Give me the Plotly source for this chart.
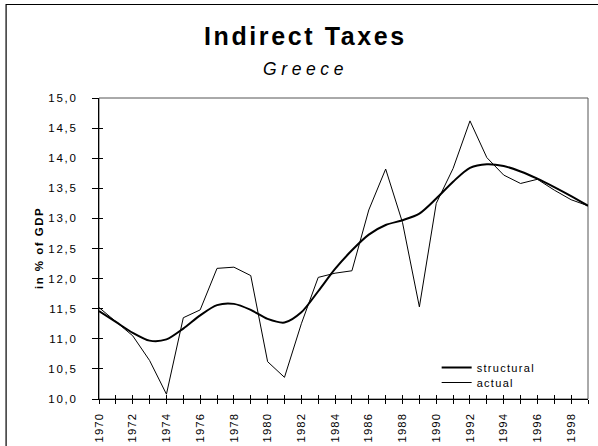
import plotly.graph_objects as go

years = list(range(1970, 2000))
actual = [11.52, 11.28, 11.05, 10.64, 10.08, 11.35, 11.48, 12.17, 12.19, 12.05,
          10.62, 10.36, 11.25, 12.02, 12.09, 12.13, 13.14, 13.82, 12.93, 11.53,
          13.25, 13.83, 14.62, 14.01, 13.72, 13.58, 13.65, 13.47, 13.31, 13.21]
structural = [11.46, 11.28, 11.10, 10.97, 10.99, 11.17, 11.39, 11.56, 11.58, 11.48,
              11.33, 11.27, 11.44, 11.79, 12.16, 12.47, 12.73, 12.89, 12.97, 13.08,
              13.33, 13.61, 13.84, 13.90, 13.87, 13.78, 13.66, 13.52, 13.37, 13.21]
x_ticktext = [str(y) if y % 2 == 0 else "" for y in years]
y_tickvals = [10.0, 10.5, 11.0, 11.5, 12.0, 12.5, 13.0, 13.5, 14.0, 14.5, 15.0]
y_ticktext = ["10,0", "10,5", "11,0", "11,5", "12,0", "12,5", "13,0", "13,5", "14,0", "14,5", "15,0"]

TITLE = "Indirect Taxes"
SUBTITLE = "Greece"
YTITLE = "in % of GDP"

FONT = "Liberation Sans, Arial, sans-serif"


def sp(text, px):
    if text == "":
        return ""
    return f'<span style="letter-spacing:{px}px">{text}</span>'


W, H = 598, 446
L, R, T, B = 99, 9.5, 98, 47
pw, ph = W - L - R, H - T - B


def px_x(px):
    return (px - L) / pw


def px_y(py):
    return (H - B - py) / ph


legend_style = dict(xanchor="left", yanchor="top", bgcolor="rgba(0,0,0,0)",
                    font=dict(size=11, family=FONT), itemwidth=30)

fig = go.Figure()
fig.add_trace(go.Scatter(x=years, y=structural, name=sp("structural", 1.3), mode="lines",
                         line=dict(color="black", width=2, shape="spline", smoothing=0.8),
                         legend="legend"))
fig.add_trace(go.Scatter(x=years, y=actual, name=sp("actual", 1.3), mode="lines",
                         line=dict(color="black", width=1), legend="legend2"))
fig.add_trace(go.Scatter(x=[], y=[], xaxis="x2", yaxis="y2", showlegend=False,
                         hoverinfo="skip"))

fig.update_layout(
    width=W, height=H,
    margin=dict(l=L, r=R, t=T, b=B, autoexpand=False),
    paper_bgcolor="white", plot_bgcolor="white",
    font=dict(family=FONT, color="black", size=11),
    showlegend=True,
    legend=dict(x=px_x(437), y=px_y(353), **legend_style),
    legend2=dict(x=px_x(437), y=px_y(368), **legend_style),
    xaxis=dict(range=[1970, 1999], tickmode="array", tickvals=years,
               ticktext=[sp(t, 1.2) for t in x_ticktext], tickangle=-90,
               ticks="outside", ticklen=4, tickwidth=1, tickcolor="black",
               showline=True, linecolor="black", linewidth=1.3,
               showgrid=False, zeroline=False, tickfont=dict(size=11.3),
               ticklabelstandoff=4, automargin=False),
    yaxis=dict(range=[10, 15], tickmode="array", tickvals=y_tickvals,
               ticktext=[sp(t, 1.7) for t in y_ticktext],
               ticks="outside", ticklen=6, tickwidth=1, tickcolor="black",
               showline=True, linecolor="black", linewidth=1.3,
               showgrid=False, zeroline=False, tickfont=dict(size=11.5),
               ticklabelstandoff=12, automargin=False),
    xaxis2=dict(range=[1970, 1999], overlaying="x", anchor="y2", side="bottom",
                tickmode="array", tickvals=years, showticklabels=False,
                ticks="inside", ticklen=4, tickwidth=1, tickcolor="black",
                showline=False, showgrid=False, zeroline=False, automargin=False),
    yaxis2=dict(range=[10, 15], overlaying="y", anchor="x2", side="left",
                tickmode="array", tickvals=y_tickvals, showticklabels=False,
                ticks="inside", ticklen=4, tickwidth=1, tickcolor="black",
                showline=False, showgrid=False, zeroline=False, automargin=False),
    shapes=[
        dict(type="rect", xref="paper", yref="paper", x0=0, x1=1, y0=0, y1=1,
             line=dict(color="#555555", width=1), layer="below"),
        dict(type="rect", xref="paper", yref="paper", x0=px_x(6), x1=px_x(640),
             y0=px_y(480), y1=px_y(4.5), line=dict(color="black", width=1.2),
             layer="below"),
    ],
    annotations=[
        dict(text="<b>" + sp(TITLE, 2.6) + "</b>", xref="paper", yref="paper",
             x=px_x(306), y=px_y(36), xanchor="center", yanchor="middle",
             showarrow=False, font=dict(size=25, family=FONT)),
        dict(text="<i>" + sp(SUBTITLE, 4.6) + "</i>", xref="paper", yref="paper",
             x=px_x(306), y=px_y(69), xanchor="center", yanchor="middle",
             showarrow=False, font=dict(size=17.5, family=FONT)),
        dict(text="<b>" + sp(YTITLE, 1.5) + "</b>", xref="paper", yref="paper",
             x=px_x(38.5), y=px_y(248.5), xanchor="center", yanchor="middle",
             textangle=-90, showarrow=False, font=dict(size=11.5, family=FONT)),
    ],
)

fig.write_html("out.html", config={"displayModeBar": False},
               post_script="document.body.style.margin='0px';")
